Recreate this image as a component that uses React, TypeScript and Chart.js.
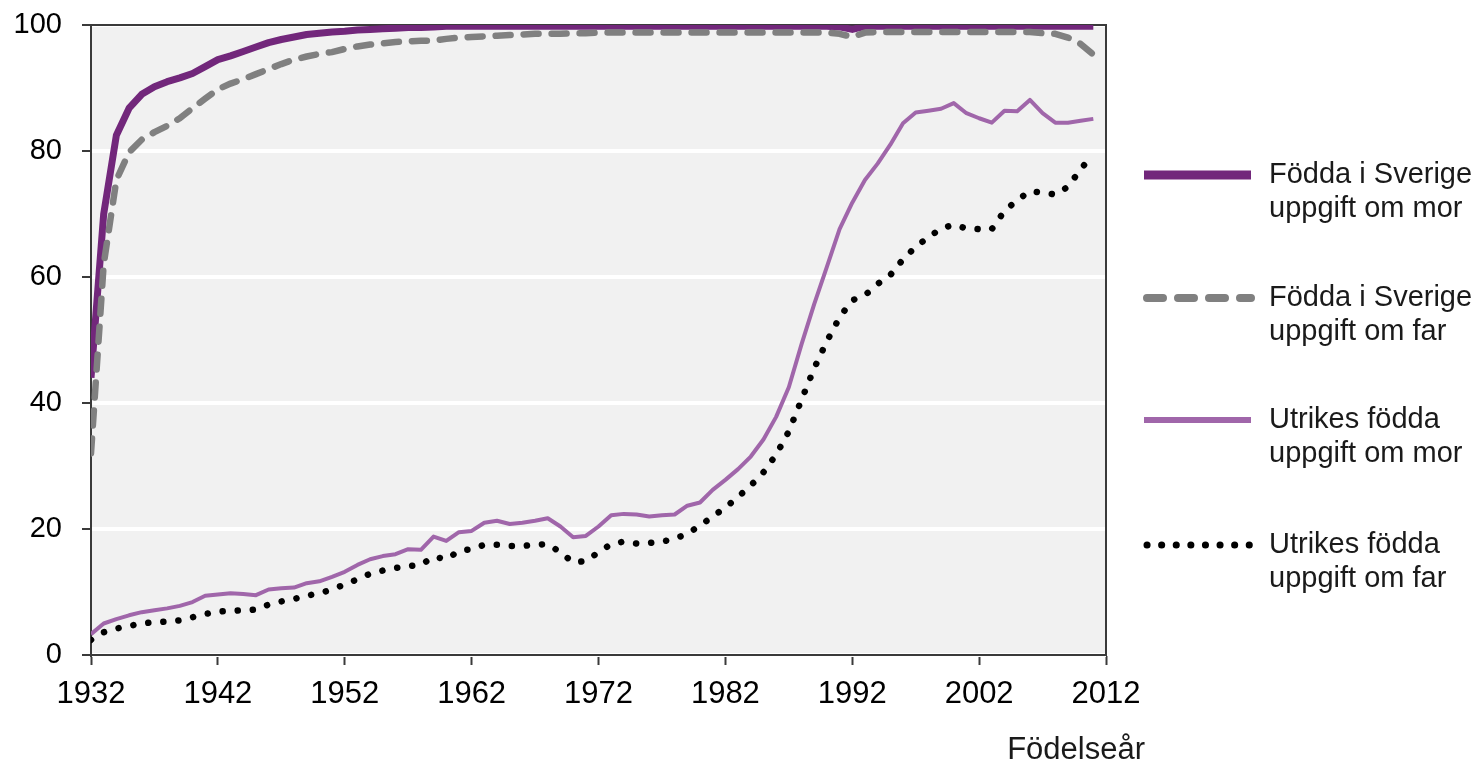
import React, { useEffect, useRef } from "react";
import { Chart, registerables } from "chart.js";

Chart.register(...registerables);

// ---------- DATA ----------
const years = [
  1932, 1933, 1934, 1935, 1936, 1937, 1938, 1939, 1940, 1941,
  1942, 1943, 1944, 1945, 1946, 1947, 1948, 1949, 1950, 1951,
  1952, 1953, 1954, 1955, 1956, 1957, 1958, 1959, 1960, 1961,
  1962, 1963, 1964, 1965, 1966, 1967, 1968, 1969, 1970, 1971,
  1972, 1973, 1974, 1975, 1976, 1977, 1978, 1979, 1980, 1981,
  1982, 1983, 1984, 1985, 1986, 1987, 1988, 1989, 1990, 1991,
  1992, 1993, 1994, 1995, 1996, 1997, 1998, 1999, 2000, 2001,
  2002, 2003, 2004, 2005, 2006, 2007, 2008, 2009, 2010, 2011,
];

// Födda i Sverige – uppgift om mor
const fodSverigeMor = [
  44, 70, 82.5, 86.8, 89, 90.2, 91, 91.6, 92.3, 93.4,
  94.5, 95.1, 95.8, 96.5, 97.2, 97.7, 98.1, 98.5, 98.7, 98.9,
  99.0, 99.2, 99.3, 99.4, 99.5, 99.6, 99.6, 99.7, 99.8, 99.8,
  99.8, 99.8, 99.8, 99.8, 99.8, 99.8, 99.8, 99.8, 99.8, 99.8,
  99.8, 99.8, 99.8, 99.8, 99.8, 99.8, 99.8, 99.8, 99.8, 99.8,
  99.8, 99.8, 99.8, 99.8, 99.8, 99.8, 99.8, 99.8, 99.8, 99.7,
  99.3, 99.8, 99.8, 99.8, 99.8, 99.8, 99.8, 99.8, 99.8, 99.8,
  99.8, 99.8, 99.8, 99.8, 99.8, 99.8, 99.8, 99.8, 99.8, 99.8,
];

// Födda i Sverige – uppgift om far
const fodSverigeFar = [
  32, 62, 75.4, 79.8, 81.8, 83, 84, 85.2, 86.8, 88.3,
  89.8, 90.7, 91.4, 92.2, 93.0, 93.8, 94.5, 95.0, 95.4, 95.7,
  96.2, 96.6, 96.9, 97.1, 97.3, 97.4, 97.5, 97.5, 97.8, 98.0,
  98.1, 98.2, 98.3, 98.4, 98.5, 98.6, 98.6, 98.6, 98.7, 98.7,
  98.8, 98.8, 98.8, 98.8, 98.8, 98.8, 98.8, 98.8, 98.8, 98.8,
  98.8, 98.8, 98.8, 98.8, 98.8, 98.8, 98.8, 98.8, 98.8, 98.6,
  98.1, 98.8, 98.9, 98.9, 98.9, 98.9, 98.9, 98.9, 98.9, 98.9,
  98.9, 98.9, 98.9, 98.9, 98.9, 98.7, 98.6, 98.0, 97.0, 95.3,
];

// Utrikes födda – uppgift om mor
const utrikesMor = [
  3.3, 5.0, 5.7, 6.3, 6.8, 7.1, 7.4, 7.8, 8.4, 9.4,
  9.6, 9.8, 9.7, 9.5, 10.4, 10.6, 10.7, 11.4, 11.7, 12.4,
  13.2, 14.3, 15.2, 15.7, 16.0, 16.8, 16.7, 18.8, 18.1, 19.5,
  19.7, 21.0, 21.3, 20.8, 21.0, 21.3, 21.7, 20.4, 18.7, 18.9,
  20.4, 22.2, 22.4, 22.3, 22.0, 22.2, 22.3, 23.7, 24.2, 26.2,
  27.8, 29.5, 31.5, 34.2, 37.8, 42.5, 49.3, 55.7, 61.6, 67.6,
  71.8, 75.4, 78.0, 81.0, 84.4, 86.1, 86.4, 86.7, 87.6, 86.0,
  85.2, 84.5, 86.4, 86.3, 88.1, 86.0, 84.5, 84.5, 84.8, 85.1,
];

// Utrikes födda – uppgift om far
const utrikesFar = [
  2.4, 3.6, 4.2, 4.6, 5.0, 5.2, 5.3, 5.5, 6.0, 6.5,
  6.9, 7.0, 7.1, 7.2, 8.0, 8.5, 8.9, 9.4, 9.8, 10.4,
  11.2, 12.0, 12.9, 13.4, 13.8, 14.1, 14.3, 15.6, 15.2, 16.5,
  16.8, 17.5, 17.5, 17.3, 17.3, 17.5, 17.6, 16.3, 14.7, 14.9,
  16.3, 17.6, 18.0, 17.7, 17.8, 18.0, 18.4, 19.3, 20.5, 22.0,
  23.4, 25.1, 26.9, 29.0, 31.8, 35.5, 40.5, 45.5, 49.8, 53.6,
  56.3, 57.1, 58.9, 60.3, 62.8, 64.8, 66.3, 67.7, 68.3, 67.7,
  67.6, 67.6, 70.5, 72.2, 73.6, 73.4, 73.1, 74.3, 77.1, 79.5,
];

const seriesLabels = [
  ["Födda i Sverige", "uppgift om mor"],
  ["Födda i Sverige", "uppgift om far"],
  ["Utrikes födda", "uppgift om mor"],
  ["Utrikes födda", "uppgift om far"],
];

const xTickValues = [1932, 1942, 1952, 1962, 1972, 1982, 1992, 2002, 2012];
const yTickValues = [0, 20, 40, 60, 80, 100];
const xAxisTitle = "Födelseår";

// ---------- STYLES ----------
const FONT = "'Liberation Sans', Arial, Helvetica, sans-serif";
const C_PURPLE = "#72277b";
const C_GRAY = "#808080";
const C_LIGHT = "#a066aa";
const C_BLACK = "#000000";
const C_FRAME = "#3a3a3a";

export default function App() {
  const canvasRef = useRef<HTMLCanvasElement | null>(null);

  useEffect(() => {
    document.body.style.margin = "0";
    document.body.style.overflow = "hidden";
    const canvas = canvasRef.current;
    if (!canvas) return;

    const toPts = (vals: number[]) => vals.map((v, i) => ({ x: years[i], y: v }));

    const legendStyles = [
      { color: C_PURPLE, width: 9, dash: [] as number[], cap: "butt" as CanvasLineCap },
      { color: C_GRAY, width: 8, dash: [16, 15], cap: "round" as CanvasLineCap },
      { color: C_LIGHT, width: 6, dash: [] as number[], cap: "butt" as CanvasLineCap },
      { color: C_BLACK, width: 7, dash: [0.1, 14.5], cap: "round" as CanvasLineCap },
    ];

    const decor = {
      id: "decor",
      beforeDraw(chart: any) {
        const { ctx, chartArea: a } = chart;
        ctx.save();
        ctx.fillStyle = "#ffffff";
        ctx.fillRect(0, 0, chart.width, chart.height);
        ctx.fillStyle = "#f1f1f1";
        ctx.fillRect(a.left, a.top, a.right - a.left, a.bottom - a.top);
        ctx.restore();
      },
      beforeDatasetsDraw(chart: any) {
        const { ctx, chartArea: a } = chart;
        ctx.save();
        ctx.strokeStyle = C_FRAME;
        ctx.lineWidth = 2;
        ctx.strokeRect(a.left, a.top, a.right - a.left, a.bottom - a.top);
        ctx.restore();
      },
      afterDraw(chart: any) {
        const { ctx, chartArea: a } = chart;
        ctx.save();
        // legend
        const rows = [175, 298, 420, 545];
        const lx0 = a.right + 38;
        const lx1 = a.right + 145;
        const tx = a.right + 163;
        ctx.font = `29px ${FONT}`;
        ctx.textAlign = "left";
        ctx.textBaseline = "middle";
        rows.forEach((ry, i) => {
          const s = legendStyles[i];
          ctx.beginPath();
          ctx.strokeStyle = s.color;
          ctx.lineWidth = s.width;
          ctx.lineCap = s.cap;
          ctx.setLineDash(s.dash);
          ctx.moveTo(lx0 + (s.cap === "round" ? 3 : 0), ry);
          ctx.lineTo(lx1, ry);
          ctx.stroke();
          ctx.setLineDash([]);
          ctx.fillStyle = "#1a1a1a";
          ctx.fillText(seriesLabels[i][0], tx, ry);
          ctx.fillText(seriesLabels[i][1], tx, ry + 34);
        });
        // x axis title
        ctx.font = `31px ${FONT}`;
        ctx.textAlign = "right";
        ctx.fillStyle = "#1a1a1a";
        ctx.fillText(xAxisTitle, a.right + 39, 750);
        ctx.restore();
      },
    };

    const chart = new Chart(canvas, {
      type: "line",
      data: {
        datasets: [
          {
            label: seriesLabels[0].join(" "),
            data: toPts(fodSverigeMor),
            borderColor: C_PURPLE,
            borderWidth: 7,
            pointRadius: 0,
            tension: 0,
            borderJoinStyle: "round",
            order: 4,
          },
          {
            label: seriesLabels[1].join(" "),
            data: toPts(fodSverigeFar),
            borderColor: C_GRAY,
            borderWidth: 6.5,
            borderDash: [15, 13],
            borderCapStyle: "round",
            borderJoinStyle: "round",
            pointRadius: 0,
            tension: 0,
            order: 3,
          },
          {
            label: seriesLabels[2].join(" "),
            data: toPts(utrikesMor),
            borderColor: C_LIGHT,
            borderWidth: 4,
            pointRadius: 0,
            tension: 0,
            borderJoinStyle: "round",
            order: 2,
          },
          {
            label: seriesLabels[3].join(" "),
            data: toPts(utrikesFar),
            borderColor: C_BLACK,
            borderWidth: 6.5,
            borderDash: [0.1, 15],
            borderCapStyle: "round",
            pointRadius: 0,
            tension: 0,
            order: 1,
          },
        ],
      },
      options: {
        responsive: false,
        animation: false,
        devicePixelRatio: 1,
        layout: { padding: { top: 25, right: 376, left: 0, bottom: 0 } },
        plugins: {
          legend: { display: false },
          tooltip: { enabled: false },
          title: { display: false },
        },
        scales: {
          x: {
            type: "linear",
            min: 1932,
            max: 2012,
            afterBuildTicks: (scale: any) => {
              scale.ticks = xTickValues.map((v) => ({ value: v }));
            },
            afterFit: (scale: any) => {
              scale.height = 110;
              scale.paddingLeft = 0;
              scale.paddingRight = 0;
            },
            grid: {
              drawOnChartArea: false,
              drawTicks: true,
              tickLength: 10,
              tickColor: C_FRAME,
              tickWidth: 2,
              color: C_FRAME,
            },
            border: { display: true, color: C_FRAME, width: 2 },
            ticks: {
              padding: 11,
              maxRotation: 0,
              autoSkip: false,
              color: "#000",
              font: { family: FONT, size: 31 },
              callback: (v: any) => String(v),
            },
          },
          y: {
            type: "linear",
            min: 0,
            max: 100,
            afterBuildTicks: (scale: any) => {
              scale.ticks = yTickValues.map((v) => ({ value: v }));
            },
            afterFit: (scale: any) => {
              scale.width = 91;
              scale.paddingTop = 0;
              scale.paddingBottom = 0;
            },
            grid: {
              color: "#ffffff",
              lineWidth: 4,
              drawTicks: true,
              tickLength: 9,
              tickColor: C_FRAME,
              tickWidth: 2,
            },
            border: { display: true, color: C_FRAME, width: 2 },
            ticks: {
              padding: 20,
              color: "#000",
              font: { family: FONT, size: 29 },
              callback: (v: any) => String(v),
            },
          },
        },
      },
      plugins: [decor],
    });

    return () => {
      chart.destroy();
    };
  }, []);

  return (
    <canvas
      ref={canvasRef}
      width={1482}
      height={765}
      style={{ display: "block", width: "1482px", height: "765px" }}
    />
  );
}
